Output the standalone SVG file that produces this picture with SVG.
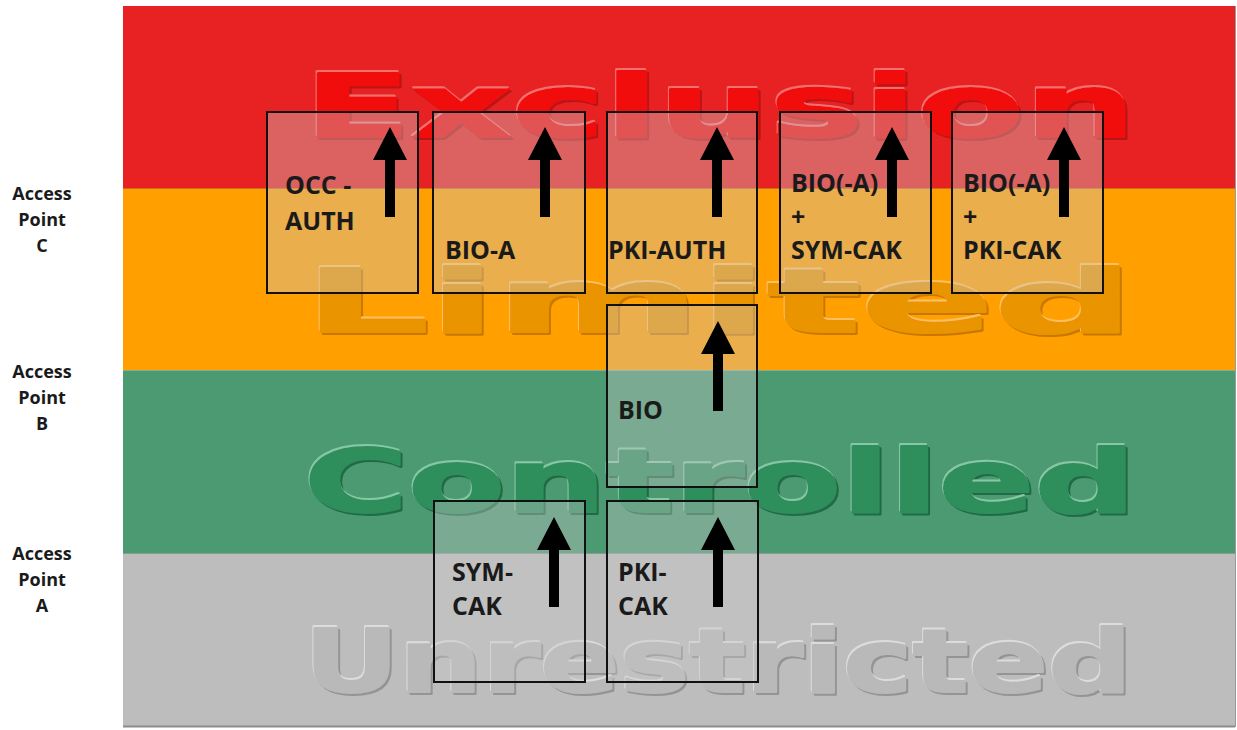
<svg xmlns="http://www.w3.org/2000/svg" width="1237" height="730" viewBox="0 0 1237 730">
  <style>
    .wm { font-family: "DejaVu Sans", "Liberation Sans", sans-serif; font-weight: bold; font-size: 88px; stroke-width: 2; stroke-linejoin: round; }
    .lbl { font-family: "Open Sans", "Liberation Sans", sans-serif; font-weight: 700; font-size: 18px; fill: #1a1a1a; text-anchor: middle; }
    .box { fill: #C8C8C8; fill-opacity: 0.38; stroke: #111; stroke-width: 2; }
    .bt { font-family: "Open Sans", "Liberation Sans", sans-serif; font-weight: 700; font-size: 25px; fill: #1a1a1a; }
    .arrow { fill: #000; }
  </style>
  <defs>
    <path id="arr" d="M0,0 L17,33 L5,33 L5,90 L-5,90 L-5,33 L-17,33 Z"/>
    <filter id="embR" x="-5%" y="-20%" width="110%" height="140%">
      <feOffset in="SourceAlpha" dx="2" dy="2" result="o1"/>
      <feFlood flood-color="#B81515"/>
      <feComposite in2="o1" operator="in" result="sh"/>
      <feOffset in="SourceAlpha" dx="-1" dy="-2" result="o2"/>
      <feFlood flood-color="#F27070"/>
      <feComposite in2="o2" operator="in" result="hl"/>
      <feMerge><feMergeNode in="sh"/><feMergeNode in="hl"/><feMergeNode in="SourceGraphic"/></feMerge>
    </filter>
    <filter id="embO" x="-5%" y="-20%" width="110%" height="140%">
      <feOffset in="SourceAlpha" dx="2" dy="2" result="o1"/>
      <feFlood flood-color="#C87800"/>
      <feComposite in2="o1" operator="in" result="sh"/>
      <feOffset in="SourceAlpha" dx="-1" dy="-2" result="o2"/>
      <feFlood flood-color="#FFC060"/>
      <feComposite in2="o2" operator="in" result="hl"/>
      <feMerge><feMergeNode in="sh"/><feMergeNode in="hl"/><feMergeNode in="SourceGraphic"/></feMerge>
    </filter>
    <filter id="embG" x="-5%" y="-20%" width="110%" height="140%">
      <feOffset in="SourceAlpha" dx="2" dy="2" result="o1"/>
      <feFlood flood-color="#226B45"/>
      <feComposite in2="o1" operator="in" result="sh"/>
      <feOffset in="SourceAlpha" dx="-1" dy="-2" result="o2"/>
      <feFlood flood-color="#86C8A4"/>
      <feComposite in2="o2" operator="in" result="hl"/>
      <feMerge><feMergeNode in="sh"/><feMergeNode in="hl"/><feMergeNode in="SourceGraphic"/></feMerge>
    </filter>
    <filter id="embS" x="-5%" y="-20%" width="110%" height="140%">
      <feOffset in="SourceAlpha" dx="2" dy="2" result="o1"/>
      <feFlood flood-color="#949494"/>
      <feComposite in2="o1" operator="in" result="sh"/>
      <feOffset in="SourceAlpha" dx="-1" dy="-2" result="o2"/>
      <feFlood flood-color="#DCDCDC"/>
      <feComposite in2="o2" operator="in" result="hl"/>
      <feMerge><feMergeNode in="sh"/><feMergeNode in="hl"/><feMergeNode in="SourceGraphic"/></feMerge>
    </filter>
  </defs>
  <rect width="1237" height="730" fill="#ffffff"/>

  <g id="bands">
    <rect x="123" y="6" width="1112" height="182" fill="#E82222"/>
    <rect x="123" y="188" width="1112" height="182" fill="#FF9F00"/>
    <rect x="123" y="370" width="1112" height="183" fill="#4B9A71"/>
    <rect x="123" y="553" width="1112" height="173" fill="#BDBDBD"/>
    <line x1="123" y1="188.5" x2="1235" y2="188.5" stroke="#C9701A" stroke-width="1"/>
    <line x1="123" y1="370.5" x2="1235" y2="370.5" stroke="#7FAE9A" stroke-width="1"/>
    <line x1="123" y1="553.5" x2="1235" y2="553.5" stroke="#8A9A92" stroke-width="1"/>
    <line x1="123" y1="726.5" x2="1235" y2="726.5" stroke="#8C8C8C" stroke-width="2"/>
    <line x1="1235.5" y1="6" x2="1235.5" y2="727" stroke="#9A9A9A" stroke-width="1"/>
  </g>

  <g id="watermarks">
    <text class="wm" x="304" y="137" textLength="832" lengthAdjust="spacingAndGlyphs" fill="#F20C0C" stroke="#F20C0C" filter="url(#embR)">Exclusion</text>
    <text class="wm" x="304" y="332" textLength="830" lengthAdjust="spacingAndGlyphs" fill="#EA9406" stroke="#EA9406" filter="url(#embO)">Limited</text>
    <text class="wm" x="304" y="512" textLength="832" lengthAdjust="spacingAndGlyphs" fill="#2F8E5C" stroke="#2F8E5C" filter="url(#embG)">Controlled</text>
    <text class="wm" x="304" y="692" textLength="828" lengthAdjust="spacingAndGlyphs" fill="#B9B9B9" stroke="#B9B9B9" filter="url(#embS)">Unrestricted</text>
  </g>

  <g id="access-labels">
    <g id="ap-c">
      <text class="lbl" x="42" y="200">Access</text>
      <text class="lbl" x="42" y="226">Point</text>
      <text class="lbl" x="42" y="252">C</text>
    </g>
    <g id="ap-b">
      <text class="lbl" x="42" y="378">Access</text>
      <text class="lbl" x="42" y="404">Point</text>
      <text class="lbl" x="42" y="430">B</text>
    </g>
    <g id="ap-a">
      <text class="lbl" x="42" y="560">Access</text>
      <text class="lbl" x="42" y="586">Point</text>
      <text class="lbl" x="42" y="612">A</text>
    </g>
  </g>

  <g id="node-occ-auth">
    <rect class="box" x="267" y="112" width="151" height="181"/>
    <use href="#arr" class="arrow" x="390" y="127"/>
    <text class="bt" x="285" y="194">OCC -</text>
    <text class="bt" x="285" y="230">AUTH</text>
  </g>

  <g id="node-bio-a">
    <rect class="box" x="433" y="112" width="152" height="181"/>
    <use href="#arr" class="arrow" x="545" y="127"/>
    <text class="bt" x="445" y="259">BIO-A</text>
  </g>

  <g id="node-pki-auth">
    <rect class="box" x="607" y="112" width="150" height="181"/>
    <use href="#arr" class="arrow" x="717" y="127"/>
    <text class="bt" x="608" y="259">PKI-AUTH</text>
  </g>

  <g id="node-bio-sym-cak">
    <rect class="box" x="780" y="112" width="151" height="181"/>
    <use href="#arr" class="arrow" x="892" y="127"/>
    <text class="bt" x="791" y="192">BIO(-A)</text>
    <text class="bt" x="791" y="226">+</text>
    <text class="bt" x="791" y="259">SYM-CAK</text>
  </g>

  <g id="node-bio-pki-cak">
    <rect class="box" x="952" y="112" width="151" height="181"/>
    <use href="#arr" class="arrow" x="1064" y="127"/>
    <text class="bt" x="963" y="192">BIO(-A)</text>
    <text class="bt" x="963" y="226">+</text>
    <text class="bt" x="963" y="259">PKI-CAK</text>
  </g>

  <g id="node-bio">
    <rect class="box" x="607" y="305" width="150" height="182"/>
    <use href="#arr" class="arrow" x="718" y="321"/>
    <text class="bt" x="618" y="419">BIO</text>
  </g>

  <g id="node-sym-cak">
    <rect class="box" x="434" y="501" width="151" height="181"/>
    <use href="#arr" class="arrow" x="554" y="517"/>
    <text class="bt" x="452" y="581">SYM-</text>
    <text class="bt" x="452" y="615">CAK</text>
  </g>

  <g id="node-pki-cak">
    <rect class="box" x="607" y="501" width="151" height="181"/>
    <use href="#arr" class="arrow" x="718" y="517"/>
    <text class="bt" x="618" y="581">PKI-</text>
    <text class="bt" x="618" y="615">CAK</text>
  </g>

  <g id="connectors"></g>
</svg>
